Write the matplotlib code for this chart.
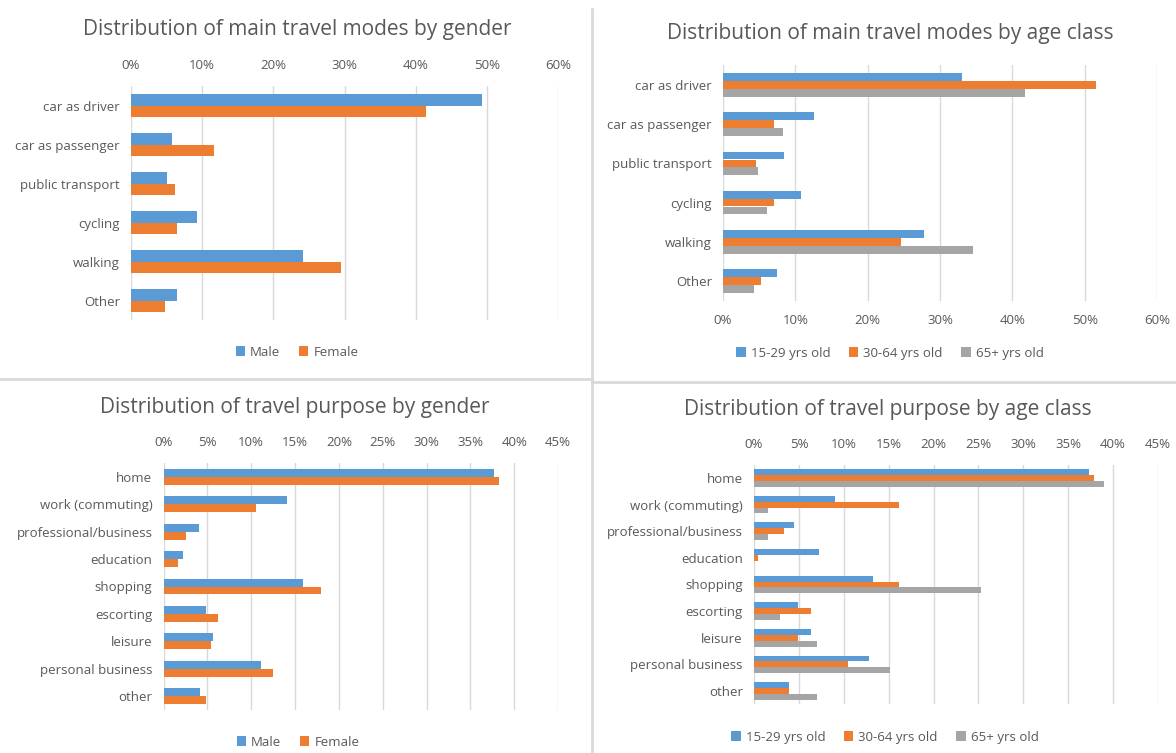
import numpy as np
import matplotlib
matplotlib.use("Agg")
import matplotlib.pyplot as plt
from matplotlib.lines import Line2D

plt.rcParams['font.family'] = ['Open Sans', 'DejaVu Sans']

# data (percent)
modes = ["car as driver", "car as passenger", "public transport", "cycling", "walking", "Other"]
mode_male = [49.3, 5.7, 5.0, 9.3, 24.1, 6.4]
mode_female = [41.4, 11.6, 6.2, 6.4, 29.5, 4.8]
mode_15_29 = [33.0, 12.6, 8.5, 10.8, 27.8, 7.4]
mode_30_64 = [51.5, 7.0, 4.5, 7.0, 24.6, 5.2]
mode_65 = [41.7, 8.3, 4.9, 6.1, 34.5, 4.3]

purposes = ["home", "work (commuting)", "professional/business", "education", "shopping",
            "escorting", "leisure", "personal business", "other"]
purp_male = [37.7, 14.1, 4.1, 2.2, 15.9, 4.8, 5.7, 11.1, 4.2]
purp_female = [38.3, 10.5, 2.6, 1.7, 18.0, 6.2, 5.4, 12.5, 4.8]
purp_15_29 = [37.3, 9.0, 4.5, 7.2, 13.3, 4.9, 6.3, 12.8, 3.9]
purp_30_64 = [37.9, 16.1, 3.3, 0.4, 16.2, 6.3, 4.9, 10.5, 3.9]
purp_65 = [39.0, 1.6, 1.6, 0.0, 25.3, 2.9, 7.0, 15.1, 7.0]

gender_labels = ["Male", "Female"]
age_labels = ["15-29 yrs old", "30-64 yrs old", "65+ yrs old"]
colors = ["#5B9BD5", "#ED7D31", "#A5A5A5"]
text_col = "#595959"

W, H = 1176, 753
fig = plt.figure(figsize=(W / 100, H / 100), dpi=100)


def px_axes(x0, y0, x1, y1):
    return fig.add_axes([x0 / W, 1 - y1 / H, (x1 - x0) / W, (y1 - y0) / H])


def panel(box, cats, series, labels, xmax, step, bar_h, ticks_top, title, title_xy, legend_xy):
    ax = px_axes(*box)
    n = len(series)
    y = np.arange(len(cats))
    for i, vals in enumerate(series):
        off = (i - (n - 1) / 2) * bar_h
        ax.barh(y + off, vals, height=bar_h, color=colors[i], label=labels[i], zorder=3)
    ax.set_ylim(len(cats) - 0.5, -0.5)
    ax.set_xlim(0, xmax)
    ax.set_yticks(y)
    ax.set_yticklabels(cats, fontsize=9.5, color=text_col)
    xt = np.arange(0, xmax + 0.1, step)
    ax.set_xticks(xt)
    ax.set_xticklabels([f"{v:.0f}%" for v in xt], fontsize=9.5, color=text_col)
    if ticks_top:
        ax.xaxis.tick_top()
    ax.tick_params(length=0, pad=8)
    ax.tick_params(axis='x', pad=10)
    ax.grid(axis='x', color="#D9D9D9", linewidth=1, zorder=0)
    for s in ax.spines.values():
        s.set_visible(False)
    fig.text(title_xy[0] / W, 1 - title_xy[1] / H, title, fontsize=15, color=text_col,
             ha='center', va='center')
    fig.legend(*ax.get_legend_handles_labels(), loc='center', ncol=n,
               bbox_to_anchor=(legend_xy[0] / W, 1 - legend_xy[1] / H), frameon=False,
               fontsize=9.5, handlelength=0.7, handleheight=0.7, handletextpad=0.4,
               columnspacing=1.4, labelcolor=text_col)
    return ax


panel((131, 86, 558, 320), modes, [mode_male, mode_female], gender_labels, 60, 10, 0.3, True,
      "Distribution of main travel modes by gender", (297, 30), (297, 352))
panel((723, 65.5, 1157, 300.5), modes, [mode_15_29, mode_30_64, mode_65], age_labels, 60, 10, 0.2, False,
      "Distribution of main travel modes by age class", (890, 33), (890, 353))
panel((163.5, 463.3, 558, 709.7), purposes, [purp_male, purp_female], gender_labels, 45, 5, 0.29, True,
      "Distribution of travel purpose by gender", (295, 407), (298, 742))
panel((754, 464.7, 1158, 704.3), purposes, [purp_15_29, purp_30_64, purp_65], age_labels, 45, 5, 0.22, True,
      "Distribution of travel purpose by age class", (888, 410), (885, 737))

# panel separators
sep = dict(color="#D9D9D9", linewidth=2, transform=fig.transFigure)
fig.add_artist(Line2D([592 / W, 592 / W], [1 - 9 / H, 0], **sep))
fig.add_artist(Line2D([0, 592 / W], [1 - 379 / H, 1 - 379 / H], **sep))
fig.add_artist(Line2D([592 / W, 1], [1 - 382 / H, 1 - 382 / H], **sep))

fig.savefig("out.png", dpi=100)
